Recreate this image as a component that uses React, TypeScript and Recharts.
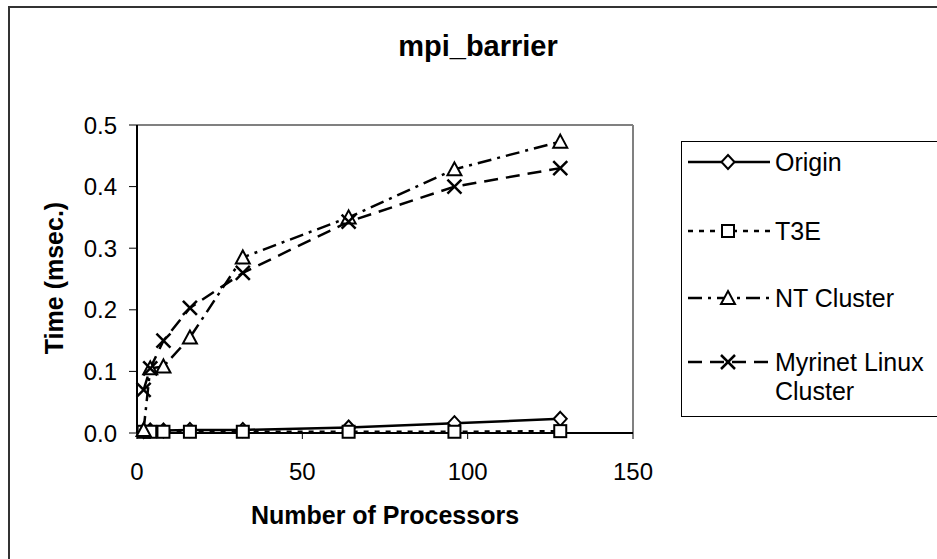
import React from "react";
import { LineChart, Line, XAxis, YAxis, ReferenceLine } from "recharts";

const processors = [2, 4, 8, 16, 32, 64, 96, 128];
const origin = [0.003, 0.004, 0.004, 0.005, 0.005, 0.009, 0.016, 0.023];
const t3e = [0.002, 0.002, 0.002, 0.002, 0.002, 0.002, 0.002, 0.003];
const ntCluster = [0.005, 0.105, 0.108, 0.155, 0.285, 0.35, 0.428, 0.473];
const myrinet = [0.07, 0.105, 0.15, 0.203, 0.26, 0.343, 0.4, 0.43];

const xTicks = [0, 50, 100, 150];
const yTicks = [0, 0.1, 0.2, 0.3, 0.4, 0.5];

const data = processors.map((p, i) => ({
  p,
  origin: origin[i],
  t3e: t3e[i],
  nt: ntCluster[i],
  myrinet: myrinet[i],
}));

const FONT = "'Liberation Sans', Arial, sans-serif";

type Shape = "diamond" | "square" | "triangle" | "cross";

function marker(shape: Shape, cx: number, cy: number, key?: string | number) {
  const common = { stroke: "#000", strokeWidth: 2, fill: "#fff" };
  if (shape === "diamond")
    return (
      <polygon
        key={key}
        points={`${cx},${cy - 7} ${cx + 6.5},${cy} ${cx},${cy + 7} ${cx - 6.5},${cy}`}
        {...common}
      />
    );
  if (shape === "square")
    return <rect key={key} x={cx - 6} y={cy - 6} width={12} height={12} {...common} />;
  if (shape === "triangle")
    return (
      <polygon
        key={key}
        points={`${cx},${cy - 7} ${cx + 7},${cy + 6} ${cx - 7},${cy + 6}`}
        {...common}
      />
    );
  return (
    <g key={key} stroke="#000" strokeWidth={2.5}>
      <line x1={cx - 7} y1={cy - 7} x2={cx + 7} y2={cy + 7} />
      <line x1={cx - 7} y1={cy + 7} x2={cx + 7} y2={cy - 7} />
    </g>
  );
}

const dotFor = (shape: Shape) => (props: any) =>
  marker(shape, props.cx, props.cy, `${shape}-${props.index}`);

const series = [
  { key: "origin", name: "Origin", dash: undefined, shape: "diamond" as Shape },
  { key: "t3e", name: "T3E", dash: "5 6", shape: "square" as Shape },
  { key: "nt", name: "NT Cluster", dash: "14 6 3 6", shape: "triangle" as Shape },
  { key: "myrinet", name: "Myrinet Linux Cluster", dash: "14 8", shape: "cross" as Shape },
];

const legendRows = [162, 231, 298, 362];

export default function App() {
  return (
    <div
      style={{
        position: "absolute",
        left: 0,
        top: 0,
        width: 937,
        height: 559,
        overflow: "hidden",
        background: "#fff",
        fontFamily: FONT,
      }}
    >
      <div
        style={{
          position: "absolute",
          left: 8,
          top: 6,
          width: 960,
          height: 600,
          border: "2px solid #333",
        }}
      />
      <div
        style={{
          position: "absolute",
          left: 278,
          width: 400,
          top: 29,
          lineHeight: "34px",
          textAlign: "center",
          fontWeight: "bold",
          fontSize: 29,
        }}
      >
        mpi_barrier
      </div>
      <div
        style={{
          position: "absolute",
          left: 54,
          top: 278,
          transform: "translate(-50%, -50%) rotate(-90deg)",
          fontWeight: "bold",
          fontSize: 25,
          lineHeight: "30px",
          whiteSpace: "nowrap",
        }}
      >
        Time (msec.)
      </div>
      <div
        style={{
          position: "absolute",
          left: 185,
          width: 400,
          top: 500,
          lineHeight: "30px",
          textAlign: "center",
          fontWeight: "bold",
          fontSize: 25,
        }}
      >
        Number of Processors
      </div>

      <div style={{ position: "absolute", left: 0, top: 0 }}>
        <LineChart
          width={937}
          height={559}
          data={data}
          margin={{ top: 125, right: 304, bottom: 56, left: 77 }}
        >
          <XAxis
            dataKey="p"
            type="number"
            domain={[0, 150]}
            ticks={xTicks}
            height={70}
            tickSize={6}
            tickMargin={24}
            tick={{ fontSize: 24, fill: "#000", fontFamily: FONT }}
            axisLine={{ stroke: "#000", strokeWidth: 2 }}
            tickLine={{ stroke: "#000" }}
          />
          <YAxis
            type="number"
            domain={[0, 0.5]}
            ticks={yTicks}
            width={60}
            tickSize={8}
            tickMargin={12}
            tickFormatter={(v: number) => v.toFixed(1)}
            tick={{ fontSize: 24, fill: "#000", fontFamily: FONT }}
            axisLine={{ stroke: "#000", strokeWidth: 2 }}
            tickLine={{ stroke: "#000" }}
          />
          <ReferenceLine y={0.5} stroke="#808080" strokeWidth={2} />
          <ReferenceLine x={150} stroke="#808080" strokeWidth={2} />
          {series.map((s) => (
            <Line
              key={s.key}
              dataKey={s.key}
              name={s.name}
              type="linear"
              stroke="#000"
              strokeWidth={2.5}
              strokeDasharray={s.dash}
              dot={dotFor(s.shape)}
              activeDot={false}
              isAnimationActive={false}
            />
          ))}
        </LineChart>
      </div>

      <div
        style={{
          position: "absolute",
          left: 681,
          top: 141,
          width: 300,
          height: 274,
          border: "1px solid #000",
        }}
      />
      {series.map((s, i) => (
        <div
          key={s.key}
          style={{ position: "absolute", left: 686, top: legendRows[i] - 12 }}
        >
          <svg width={86} height={24} style={{ position: "absolute", left: 0, top: 0 }}>
            <line
              x1={2}
              y1={12}
              x2={84}
              y2={12}
              stroke="#000"
              strokeWidth={2.5}
              strokeDasharray={s.dash}
            />
            {marker(s.shape, 42, 12)}
          </svg>
          <div
            style={{
              position: "absolute",
              left: 89,
              top: -2.5,
              fontSize: 25,
              lineHeight: "29px",
              width: 165,
            }}
          >
            {s.name}
          </div>
        </div>
      ))}
    </div>
  );
}
